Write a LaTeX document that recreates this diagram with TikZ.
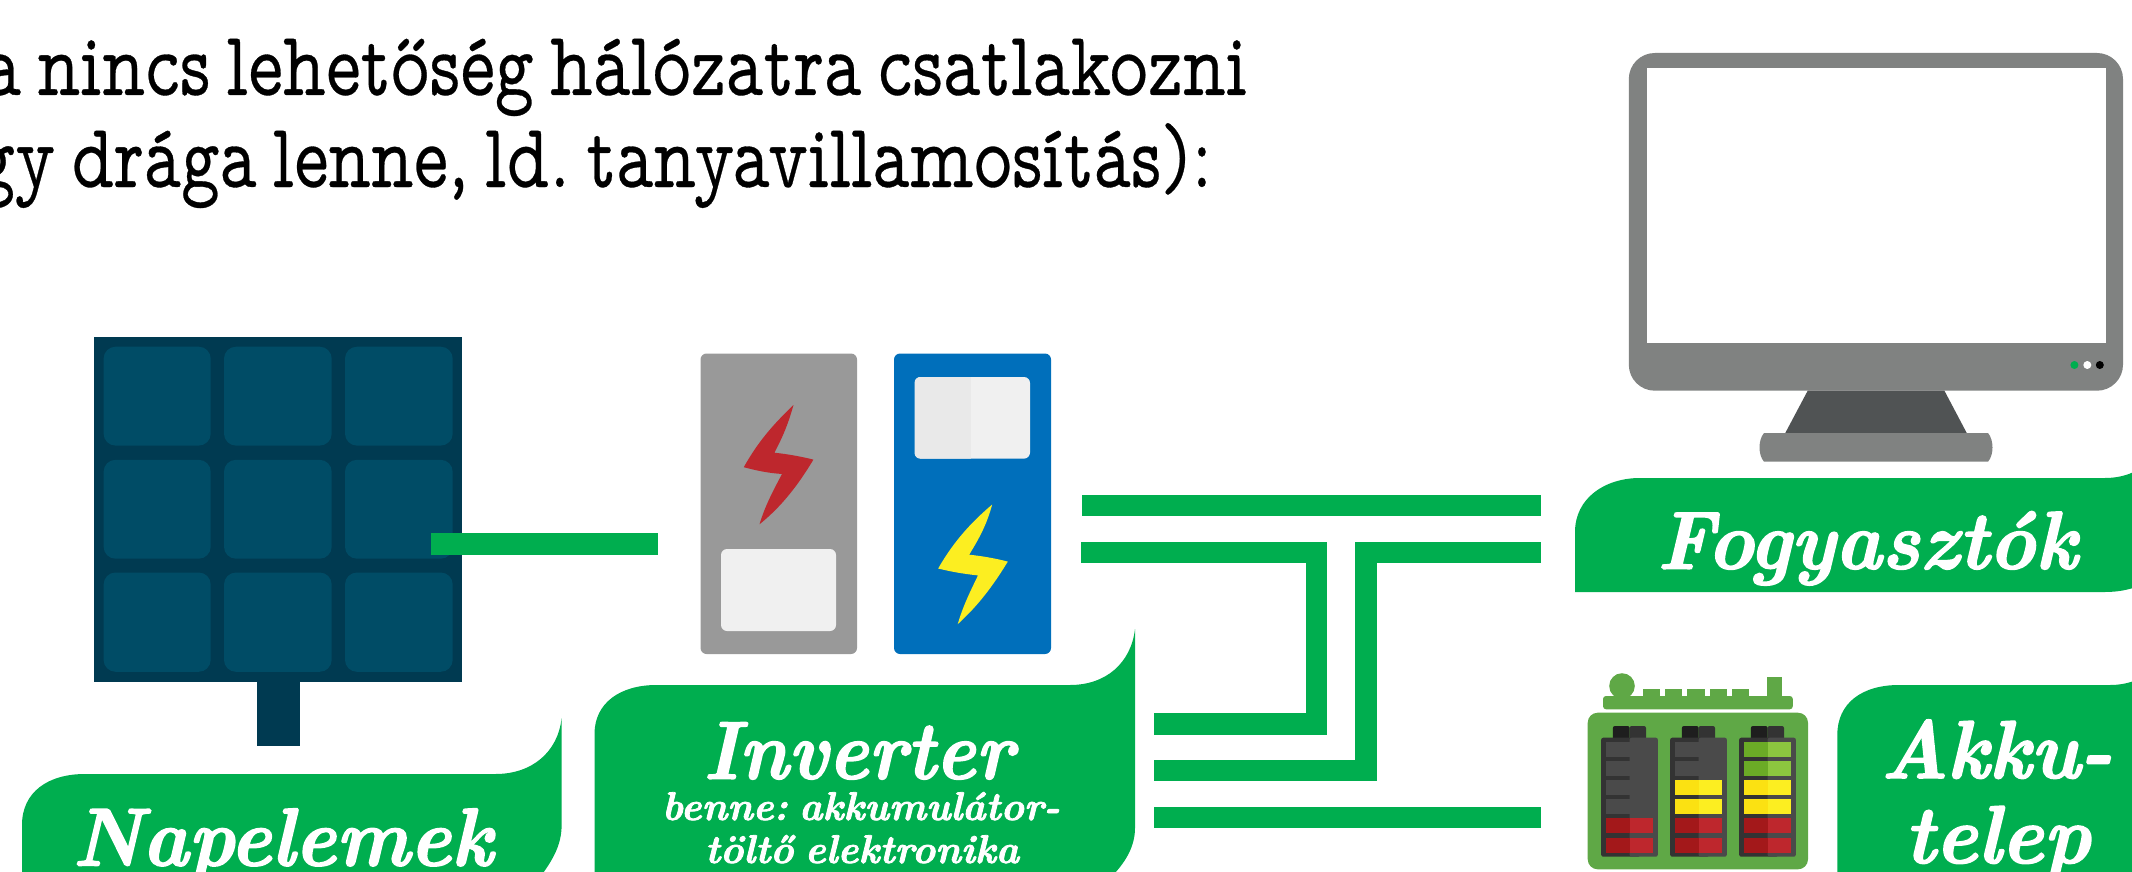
\documentclass[tikz,border=0pt]{standalone}
\usepackage{fontspec}
\setmainfont[WordSpace=0.7,BoldItalicFeatures={FakeBold=2}]{Latin Modern Roman}
\newfontfamily\topfont[WordSpace=0.62,FakeBold=0.35]{Latin Modern Mono Prop}
\frenchspacing
\definecolor{gr}{HTML}{00AE4F}
\definecolor{pandark}{HTML}{003A51}
\definecolor{pancell}{HTML}{004C66}
\definecolor{invgray}{HTML}{999999}
\definecolor{invblue}{HTML}{006FBB}
\definecolor{monit}{HTML}{808281}
\definecolor{stand}{HTML}{505354}
\definecolor{redR}{HTML}{BE272D}
\definecolor{redL}{HTML}{A3181A}
\definecolor{yelR}{HTML}{FCEE21}
\definecolor{yelL}{HTML}{FBE112}
\definecolor{grnR}{HTML}{8CC63F}
\definecolor{grnL}{HTML}{6BAB26}
\definecolor{batgr}{HTML}{5FA846}
\definecolor{sh}{HTML}{333333}
\definecolor{shl}{HTML}{4A4A4A}
\definecolor{capd}{HTML}{1E1E1E}
\tikzset{
  x=0.5pt,y=-0.5pt,
  pipe/.style={draw=gr,line width=10.65pt,line cap=butt,miter limit=10},
  flag/.style={fill=gr},
  cell/.style={fill=pancell,rounded corners=6pt},
  lab/.style={text=white,inner sep=0pt,anchor=base,font=\bfseries\itshape},
  toptext/.style={text=black,inner sep=0pt,anchor=base east,font=\topfont},
}
% width in pt, font size in pt, text: only the width is scaled
\newcommand{\fitw}[3]{\resizebox{#1pt}{\height}{\fontsize{#2}{#2}\selectfont #3}}
\newcommand{\segs}[4]{% x offset, y, colL, colR
  \fill[#3] (1606+#1,#2) rectangle (1629.6+#1,#2+15);
  \fill[#4] (1629.6+#1,#2) rectangle (1653+#1,#2+15);}
\newcommand{\cellbat}[1]{%
  \fill[capd,rounded corners=1pt] (1612.9+#1,726) rectangle (1629.6+#1,740);
  \fill[sh,rounded corners=1pt] (1629.6+#1,726) rectangle (1646+#1,740);
  \fill[sh,rounded corners=1pt] (1601.2+#1,737.7) rectangle (1640+#1,856.7);
  \fill[shl,rounded corners=1pt] (1629.6+#1,737.7) rectangle (1657.8+#1,856.7);
}
\begin{document}
\begin{tikzpicture}
\useasboundingbox (0,0) rectangle (2132,872);
\clip (0,0) rectangle (2132,872);

% heading (cut off at the left edge)
\node[toptext] (head1) at (1248,95) {\fitw{632}{46}{a nincs lehetőség hálózatra csatlakozni}};
\node[toptext] (head2) at (1213,187) {\fitw{618}{46}{gy drága lenne, ld. tanyavillamosítás):}};

% solar panel
\fill[pandark] (257,682) rectangle (300,745.8);
\fill[pandark] (94,337) rectangle (462,682);
\foreach \xa/\xb in {103.6/210.7,224/331.7,345/452.7}
  \foreach \ya/\yb in {346.7/445.6,459.8/558.7,572.5/671.8}
    \fill[cell] (\xa,\ya) rectangle (\xb,\yb);

% label shapes
\fill[flag] (22,880) -- (22,825) .. controls (22,792) and (48,774) .. (85,774)
  -- (495.5,774) .. controls (532,774) and (558,752) .. (561.6,718)
  -- (561.6,825) .. controls (561.6,845) and (553,860) .. (538,880) -- cycle;
\fill[flag] (594.5,880) -- (594.5,734) .. controls (594.5,703) and (620,685) .. (656.5,685)
  -- (1070,685) .. controls (1106,685) and (1131,663) .. (1135,629)
  -- (1135,828) .. controls (1135,845) and (1127,860) .. (1114,874) -- (1110,880) -- cycle;
\fill[flag] (1575,592) -- (1575,532) .. controls (1575,498) and (1605,478) .. (1640,478)
  -- (2105,478) .. controls (2140,478) and (2165,455) .. (2170,420)
  -- (2170,545) .. controls (2170,575) and (2140,592) .. (2105,592) -- cycle;
\fill[flag] (1837.3,880) -- (1837.3,735) .. controls (1837.3,703) and (1862,685) .. (1899,685)
  -- (2110,685) .. controls (2145,685) and (2170,662) .. (2175,628)
  -- (2175,880) -- cycle;

% inverter
\fill[invgray,rounded corners=3pt] (700.5,353.5) rectangle (857,654);
\fill[invblue,rounded corners=3pt] (894,353.5) rectangle (1051,654);
\fill[black!6,rounded corners=3pt] (721,549) rectangle (836,631);
\fill[black!6,rounded corners=3pt] (914.5,377) rectangle (1030,458.6);
\begin{scope}
  \clip[rounded corners=3pt] (914.5,377) rectangle (1030,458.6);
  \fill[black!8.5] (914.5,377) rectangle (971,458.6);
\end{scope}
\fill[redR] (793.5,405) .. controls (787,428) and (781,440) .. (774.4,452.7)
  .. controls (787,454) and (801,456.5) .. (813.4,459.6)
  .. controls (794,492) and (777,510) .. (759.5,524.3)
  .. controls (765,506) and (773,491) .. (782,474)
  .. controls (768,473) and (756,470.5) .. (743.8,467.2)
  .. controls (760,438) and (778,420) .. (793.5,405) -- cycle;
\fill[yelR] (992.2,504.5) .. controls (986,527) and (978,540) .. (969.2,554.7)
  .. controls (982,556) and (996,558.5) .. (1007.8,561.6)
  .. controls (988,594) and (973,610) .. (957.7,624.2)
  .. controls (963,606) and (970,592) .. (978,575.4)
  .. controls (964,574) and (950,571.5) .. (938.2,568.5)
  .. controls (955,539) and (974,520) .. (992.2,504.5) -- cycle;

% connectors
\coordinate (panelout) at (430.8,544);
\coordinate (invin) at (658,544);
\coordinate (t1a) at (1082,505.3);
\coordinate (t1b) at (1541,505.3);
\coordinate (t2a) at (1081.3,552.3);
\coordinate (t2c) at (1316.3,552.3);
\coordinate (t2d) at (1316.3,724);
\coordinate (t2e) at (1154,724);
\coordinate (t3a) at (1541,552.3);
\coordinate (t3c) at (1366,552.3);
\coordinate (t3d) at (1366,770.6);
\coordinate (t3e) at (1154,770.6);
\coordinate (t4a) at (1154,817.6);
\coordinate (t4b) at (1541,817.6);
\draw[pipe] (panelout) -- (invin);
\draw[pipe] (t1a) -- (t1b);
\draw[pipe] (t2a) -- (t2c) -- (t2d) -- (t2e);
\draw[pipe] (t3a) -- (t3c) -- (t3d) -- (t3e);
\draw[pipe] (t4a) -- (t4b);

% monitor
\fill[monit,rounded corners=13pt] (1628.8,53) rectangle (2123,390.7);
\fill[white] (1647,68) rectangle (2106,343);
\fill[stand] (1807.7,390.7) -- (1944.4,390.7) -- (1967,433.5) -- (1785,433.5) -- cycle;
\fill[monit] (1764,433) -- (1988,433) .. controls (1994,440) and (1994,455) .. (1988,461.7)
  -- (1764,461.7) .. controls (1758,455) and (1758,440) .. (1764,433) -- cycle;
\fill[gr] (2074.4,365) circle[radius=4];
\fill[white] (2087.3,365) circle[radius=4];
\fill[black] (2099.8,365) circle[radius=4];

% battery
\fill[batgr,rounded corners=5pt] (1587.7,712.7) rectangle (1808,869.3);
\fill[batgr,rounded corners=1.5pt] (1603,696) rectangle (1792.8,709.3);
\fill[batgr] (1622,686) circle[radius=12.8];
\foreach \xa/\xb in {1643.2/1660,1665/1682.2,1687.3/1704.5,1709.6/1726.7,1731.8/1749}
  \fill[batgr] (\xa,689) rectangle (\xb,697);
\fill[batgr] (1766.9,677.3) rectangle (1782.2,697);
\cellbat{0}\cellbat{69}\cellbat{138}
\foreach \o in {0,69}{
  \foreach \yy in {742,761}{\segs{\o}{\yy}{shl}{shl}}
}
\foreach \yy in {780,799}{\segs{0}{\yy}{shl}{shl}}
\foreach \yy in {780,799}{\segs{69}{\yy}{yelL}{yelR}}
\foreach \yy in {742,761}{\segs{138}{\yy}{grnL}{grnR}}
\foreach \yy in {780,799}{\segs{138}{\yy}{yelL}{yelR}}
\foreach \o in {0,69,138}{
  \foreach \yy in {818,837.7}{\segs{\o}{\yy}{redL}{redR}}
}

% labels
\node[lab] (napelemek) at (282.5,865.5) {\fitw{210}{41}{Napelemek}};
\node[lab] (inverter) at (858.5,778.7) {\fitw{155}{41}{Inverter}};
\node[lab] (inv2) at (861,820) {\fitw{199}{20}{benne: akkumulátor-}};
\node[lab] (inv3) at (862,863) {\fitw{157}{20}{töltő elektronika}};
\node[lab] (fogy) at (1867,568.7) {\fitw{210}{41}{Fogyasztók}};
\node[lab] (akku) at (1996.5,778) {\fitw{116}{41}{Akku-}};
\node[lab] (telep) at (1997.5,863) {\fitw{93}{41}{telep}};
\end{tikzpicture}
\end{document}
